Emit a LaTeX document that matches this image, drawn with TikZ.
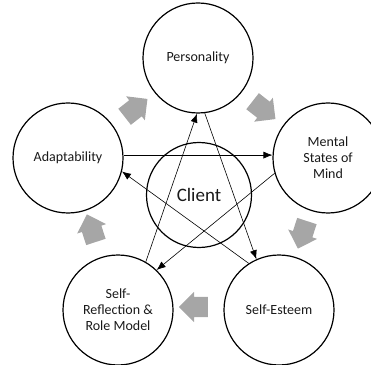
\documentclass[tikz,border=0pt]{standalone}
\usepackage{fontspec}
\setmainfont{Carlito}
\usetikzlibrary{shapes.arrows,arrows.meta}

\tikzset{
	topic/.style={shape=circle, draw, line width=1.2pt, minimum size=110pt, inner sep=0pt, align=center, text=black!90, font=\fontsize{14}{16}\selectfont},
	link/.style={line width=0.6pt, -{Latex[length=9pt,width=7pt]}},
	flow/.style={shape=single arrow, fill=black!35, inner sep=0pt, inner ysep=10pt, minimum height=29pt, single arrow head extend=5pt}
}

\begin{document}
\begin{tikzpicture}[x=1pt,y=1pt]
		\useasboundingbox (0,0) rectangle (371,364);
		% the five outer circles and the client in the middle
		\node[topic] (pers) at (198,306) {Personality};
		\node[topic] (mind) at (328,206) {Mental\\States of\\Mind};
		\node[topic] (esteem) at (279,54) {Self-Esteem};
		\node[topic] (reflect) at (118,54) {Self-\\Reflection \&\\Role Model};
		\node[topic] (adapt) at (68,206) {Adaptability};
		\node[topic, minimum size=105pt, font=\fontsize{19}{22}\selectfont] (client) at (199,169) {Client};
		% star of connections
		\draw[link] (adapt.3) -- (mind.177);
		\draw[link] (mind.196) -- (reflect.46);
		\draw[link] (reflect.60) -- (pers.269);
		\draw[link] (pers.277) -- (esteem.114);
		\draw[link] (esteem.123) -- (adapt.346);
		% grey arrows going round
		\node[flow, rotate=38] (f1) at (132,253) {};
		\node[flow, rotate=-38] (f2) at (260,257) {};
		\node[flow, rotate=252] (f3) at (304,134) {};
		\node[flow, rotate=180] (f4) at (198.5,57) {};
		\node[flow, rotate=108] (f5) at (93,131) {};
	\end{tikzpicture}
\end{document}
